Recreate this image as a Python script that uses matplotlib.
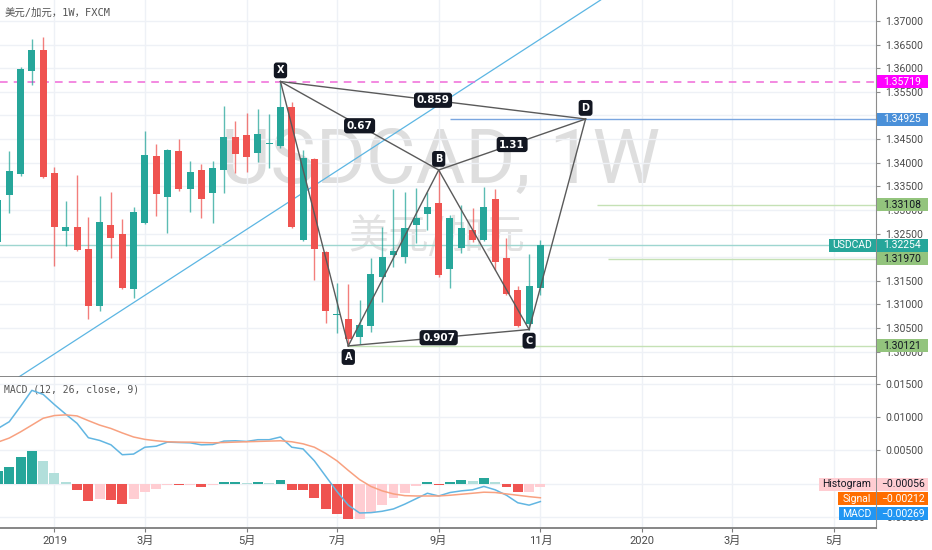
import numpy as np
import matplotlib
matplotlib.use('Agg')
import matplotlib.pyplot as plt
from matplotlib.patches import Rectangle
from matplotlib.transforms import blended_transform_factory

plt.rcParams['font.family'] = ['Roboto', 'Noto Sans CJK SC', 'DejaVu Sans']

# weekly USDCAD bars, bar 0 is the one cut off at the left edge
opens = [1.32321, 1.33316, 1.33761, 1.35941, 1.36386, 1.33782, 1.32554, 1.32638, 1.32172, 1.30966,
         1.32681, 1.32490, 1.31326, 1.32723, 1.34142, 1.33274, 1.34248, 1.33443, 1.33845, 1.33358,
         1.33845, 1.34544, 1.34586, 1.34205, 1.34396, 1.34353, 1.35179, 1.32363, 1.34078, 1.32109,
         1.30775, 1.30690, 1.30309, 1.30542, 1.31580, 1.32046, 1.32003, 1.32681, 1.32914, 1.33147,
         1.31749, 1.32194, 1.32575, 1.32363, 1.33231, 1.31982, 1.31304, 1.30585, 1.31347]
highs = [1.33295, 1.34248, 1.36026, 1.36619, 1.36661, 1.33909, 1.33189, 1.33739, 1.32850, 1.33295,
         1.33379, 1.32808, 1.33062, 1.34671, 1.34396, 1.34290, 1.34502, 1.34036, 1.33972, 1.34036,
         1.35200, 1.34883, 1.35052, 1.35137, 1.35031, 1.35719, 1.35285, 1.34269, 1.34099, 1.32130,
         1.31453, 1.31432, 1.31093, 1.31982, 1.32638, 1.33443, 1.33379, 1.33464, 1.33379, 1.33845,
         1.32892, 1.33104, 1.33040, 1.33485, 1.33443, 1.32405, 1.31389, 1.32067, 1.32363]
lows = [1.32236, 1.32935, 1.33718, 1.35645, 1.33676, 1.31813, 1.32236, 1.32130, 1.30690, 1.30860,
        1.31982, 1.31326, 1.31135, 1.32702, 1.32871, 1.32511, 1.33401, 1.32956, 1.32829, 1.32723,
        1.33358, 1.33782, 1.33803, 1.34015, 1.33888, 1.34310, 1.32617, 1.32342, 1.31516, 1.30606,
        1.30394, 1.30121, 1.30161, 1.30415, 1.31050, 1.31791, 1.31876, 1.32300, 1.32575, 1.31580,
        1.31347, 1.32088, 1.32321, 1.32342, 1.31728, 1.31199, 1.30521, 1.30467, 1.31199]
closes = [1.33210, 1.33824, 1.35984, 1.36386, 1.33697, 1.32638, 1.32638, 1.32151, 1.30966, 1.32744,
          1.32405, 1.31347, 1.32956, 1.34163, 1.33337, 1.34269, 1.33443, 1.33803, 1.33231, 1.33888,
          1.34544, 1.34184, 1.34120, 1.34607, 1.34417, 1.35179, 1.32638, 1.34099, 1.32172, 1.30860,
          1.30796, 1.30267, 1.30563, 1.31643, 1.32003, 1.32130, 1.32617, 1.32829, 1.33062, 1.31622,
          1.32829, 1.32617, 1.32363, 1.33062, 1.31897, 1.31220, 1.30542, 1.31389, 1.32254]

# MACD (12, 26, close, 9)
macd_vals = [0.00831, 0.00933, 0.01164, 0.01405, 0.01344, 0.01190, 0.01046, 0.00908, 0.00692, 0.00651,
             0.00585, 0.00436, 0.00446, 0.00549, 0.00564, 0.00626, 0.00620, 0.00615, 0.00585, 0.00590,
             0.00641, 0.00646, 0.00636, 0.00662, 0.00662, 0.00703, 0.00549, 0.00523, 0.00344, 0.00113,
             -0.00118, -0.00323, -0.00441, -0.00436, -0.00415, -0.00380, -0.00308, -0.00226, -0.00144, -0.00185,
             -0.00133, -0.00108, -0.00092, -0.00041, -0.00092, -0.00174, -0.00287, -0.00323, -0.00269]
signal_vals = [0.00626, 0.00687, 0.00780, 0.00882, 0.00985, 0.01026, 0.01036, 0.01020, 0.00949, 0.00882,
               0.00831, 0.00764, 0.00703, 0.00667, 0.00646, 0.00631, 0.00626, 0.00626, 0.00620, 0.00615,
               0.00620, 0.00626, 0.00631, 0.00636, 0.00641, 0.00646, 0.00631, 0.00600, 0.00549, 0.00456,
               0.00344, 0.00200, 0.00062, -0.00041, -0.00108, -0.00154, -0.00180, -0.00185, -0.00185, -0.00185,
               -0.00174, -0.00159, -0.00144, -0.00128, -0.00133, -0.00154, -0.00174, -0.00195, -0.00212]
hist_vals = [0.00190, 0.00256, 0.00405, 0.00497, 0.00344, 0.00159, 0.00020, -0.00092, -0.00256, -0.00236,
             -0.00246, -0.00313, -0.00236, -0.00118, -0.00082, -0.00020, -0.00026, -0.00015, -0.00046, -0.00020,
             0.00020, 0.00022, 0.00010, 0.00030, 0.00015, 0.00056, -0.00092, -0.00095, -0.00210, -0.00374,
             -0.00456, -0.00528, -0.00525, -0.00426, -0.00318, -0.00220, -0.00133, -0.00041, 0.00030, -0.00026,
             0.00030, 0.00056, 0.00046, 0.00082, 0.00030, -0.00046, -0.00128, -0.00125, -0.00056]

tick_idx = [5, 13, 22, 30, 39, 48, 57, 65, 74]
tick_txt = ['2019', '3月', '5月', '7月', '9月', '11月', '2020', '3月', '5月']

# harmonic pattern points (bar index, price)
pat_names = ['X', 'A', 'B', 'C', 'D']
pat_idx = [25, 31, 39, 47, 52]
pat_px = [1.35719, 1.30121, 1.33845, 1.30467, 1.34925]
ratio_legs = [('X', 'D'), ('X', 'B'), ('B', 'D'), ('A', 'C')]
ratio_txt = ['0.859', '0.67', '1.31', '0.907']

# trend line through two points (bar index, price)
trend_idx = [2.12, 26.7]
trend_px = [1.29505, 1.33316]

# horizontal levels: price, first bar
level_px = [1.34925, 1.33108, 1.31970, 1.30121]
level_from = [40, 53, 54, 31]
level_col = ['#7aa6e0', '#c5e1b5', '#c5e1b5', '#c5e1b5']

GREEN = '#26a69a'
RED = '#ef5350'
GRID = '#eef1f6'
AXC = '#7d7d7d'
TXT = '#4a4a4a'

fig = plt.figure(figsize=(9.32, 5.50), dpi=100)
W, H = 932.0, 550.0
ax = fig.add_axes([0, (H - 377) / H, 876 / W, 377 / H])
ax2 = fig.add_axes([0, (H - 528) / H, 876 / W, 151 / H], sharex=ax)

idx = np.arange(len(opens))
o, h, l, c = (np.array(v) for v in (opens, highs, lows, closes))
col = np.where(c >= o, GREEN, RED)

ax.vlines(idx, l, h, colors=col, lw=1, alpha=0.75, zorder=3)
ax.bar(idx, np.maximum(np.abs(c - o), 0.00013), 0.62, bottom=np.minimum(o, c),
       color=col, linewidth=0, zorder=4)

ax.set_xlim(0.18, 77.7)
ax.set_ylim(1.29462, 1.37445)

# watermark
ax.text(0.503, 0.568, 'USDCAD, 1W', transform=ax.transAxes, ha='center', va='center',
        fontsize=55, color='#dedede', zorder=0)
ax.text(0.498, 0.374, '美元/加元', transform=ax.transAxes, ha='center', va='center',
        fontsize=29, color='#e2e2e2', family=['Noto Sans CJK SC', 'DejaVu Sans'], zorder=0)

ax.text(5 / 876, 1 - 13 / 377, '美元/加元，1W，FXCM', transform=ax.transAxes, ha='left', va='center',
        fontsize=7.5, color='#555555', family=['DejaVu Sans Mono', 'Noto Sans CJK SC'])

# trend line
ax.axline((trend_idx[0], trend_px[0]), (trend_idx[1], trend_px[1]), color='#5cb6e3', lw=0.9, zorder=2)

# horizontal levels
for p, start, lc in zip(level_px, level_from, level_col):
    ax.hlines(p, start, 80, color=lc, lw=1, zorder=2)
ax.axhline(pat_px[0], color='#f06ad8', lw=1.1, ls=(0, (5, 4)), zorder=2)
ax.axhline(closes[-1], color='#9ed6d0', lw=1, zorder=2)

# XABCD pattern
pts = dict(zip(pat_names, zip(pat_idx, pat_px)))
for a, b in zip(pat_names[:-1], pat_names[1:]):
    ax.plot([pts[a][0], pts[b][0]], [pts[a][1], pts[b][1]], color='#5a5a5a', lw=1, zorder=5)
for (a, b), t in zip(ratio_legs, ratio_txt):
    ax.plot([pts[a][0], pts[b][0]], [pts[a][1], pts[b][1]], color='#5a5a5a', lw=1, zorder=5)
    mx = (pts[a][0] + pts[b][0]) / 2
    my = (pts[a][1] + pts[b][1]) / 2
    ax.text(mx, my, t, ha='center', va='center', fontsize=7.5, fontweight='bold', color='white',
            family='DejaVu Sans', zorder=7,
            bbox=dict(boxstyle='round,pad=0.25,rounding_size=0.3', fc='#131722', ec='none'))
for n in pat_names:
    above = n in ('X', 'B', 'D')
    ax.annotate(n, pts[n], xytext=(0, 8 if above else -8), textcoords='offset points',
                ha='center', va='center', fontsize=7, fontweight='bold', color='white',
                family='DejaVu Sans', zorder=7,
                bbox=dict(boxstyle='round,pad=0.3,rounding_size=0.3', fc='#131722', ec='none'))

# MACD pane
hcol = []
for i, v in enumerate(hist_vals):
    prev = hist_vals[i - 1] if i > 0 else v
    if v >= 0:
        hcol.append('#26a69a' if v >= prev else '#b2dfdb')
    else:
        hcol.append('#ffcdd2' if v >= prev else '#ef5350')
ax2.bar(idx, hist_vals, 0.88, color=hcol, linewidth=0, zorder=3)
ax2.plot(idx, macd_vals, color='#62b6e2', lw=1.1, zorder=4)
ax2.plot(idx, signal_vals, color='#f8a180', lw=1.1, zorder=4)
ax2.set_ylim(-0.00667, 0.01606)
ax2.text(4 / 876, 1 - 13 / 151, 'MACD (12, 26, close, 9)', transform=ax2.transAxes, ha='left',
         va='center', fontsize=7, color='#555555', family='DejaVu Sans Mono')

# axes styling
for a in (ax, ax2):
    for s in ('top', 'left'):
        a.spines[s].set_visible(False)
    a.spines['right'].set_color('#8c8c8c')
    a.spines['bottom'].set_color(AXC)
    a.spines['bottom'].set_linewidth(1.3)
    a.yaxis.tick_right()
    a.set_xticks(tick_idx)
    a.grid(True, color=GRID, lw=1, zorder=0)
    a.set_axisbelow(True)
    a.tick_params(axis='y', length=3, width=0.8, color='#8c8c8c', pad=3.5, labelsize=7.5, labelcolor=TXT)
    a.set_facecolor('white')

# price labels that sit almost under a price box are hidden, as on the original
px_per_unit = ax.bbox.height / (1.37445 - 1.29462)
tagged = [pat_px[0]] + level_px + [closes[-1]]


def price_fmt(v, p):
    if any(abs(v - t) * px_per_unit < 4 for t in tagged):
        return ''
    return f'{v:.5f}'


ax.set_yticks(np.round(np.arange(1.300, 1.3701, 0.005), 3))
ax.yaxis.set_major_formatter(price_fmt)
ax.tick_params(axis='x', length=0, labelbottom=False)
ax2.set_yticks([-0.005, 0.0, 0.005, 0.01, 0.015])
ax2.yaxis.set_major_formatter(lambda v, p: f'{v:.5f}')
ax2.set_xticklabels(tick_txt)
ax2.tick_params(axis='x', length=3, color=AXC, pad=3, labelsize=8, labelcolor=TXT)


def tag(a, y, text, fc, tc, side='right', w=51, dy=0):
    """Coloured price box stuck to the right axis."""
    hpx = 13
    y0, y1 = a.get_ylim()
    per_px = (y1 - y0) / a.bbox.height
    fw = w / a.bbox.width
    tr = blended_transform_factory(a.transAxes, a.transData)
    yc = y + dy * per_px
    x0 = 1 + 1 / a.bbox.width if side == 'right' else 1 - fw - 0.5 / a.bbox.width
    a.add_patch(Rectangle((x0, yc - hpx / 2 * per_px), fw, hpx * per_px, transform=tr,
                          fc=fc, ec='none', clip_on=False, zorder=10))
    a.text(x0 + fw / 2, yc, text, transform=tr, ha='center', va='center', fontsize=7.5,
           color=tc, clip_on=False, zorder=11)


tag(ax, pat_px[0], f'{pat_px[0]:.5f}', '#ff00ff', 'white')
tag(ax, level_px[0], f'{level_px[0]:.5f}', '#4a90d9', 'white')
for p in level_px[1:]:
    tag(ax, p, f'{p:.5f}', '#93c47d', '#131722')
tag(ax, closes[-1], f'{closes[-1]:.5f}', GREEN, 'white')
tag(ax, closes[-1], 'USDCAD', GREEN, 'white', side='left', w=47)

tag(ax2, hist_vals[-1], f'{hist_vals[-1]:.5f}'.replace('-', '\u2212'), '#ffcdd2', '#131722', dy=3)
tag(ax2, hist_vals[-1], 'Histogram', '#ffcdd2', '#131722', side='left', w=57, dy=3)
tag(ax2, signal_vals[-1], f'{signal_vals[-1]:.5f}'.replace('-', '\u2212'), '#ff6d00', 'white', dy=-1)
tag(ax2, signal_vals[-1], 'Signal', '#ff6d00', 'white', side='left', w=38, dy=-1)
tag(ax2, macd_vals[-1], f'{macd_vals[-1]:.5f}'.replace('-', '\u2212'), '#2196f3', 'white', dy=-12)
tag(ax2, macd_vals[-1], 'MACD', '#2196f3', 'white', side='left', w=37, dy=-12)

fig.savefig('out.png', dpi=100)
plt.close('all')
